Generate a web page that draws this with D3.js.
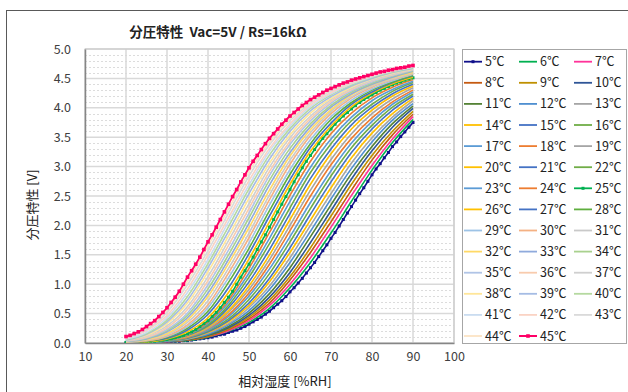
<!DOCTYPE html>
<html><head><meta charset="utf-8">
<script src="https://cdn.jsdelivr.net/npm/d3@7"></script>
<style>body{margin:0;background:#fff;} svg{display:block;}</style>
</head><body><svg id="c" width="628" height="392"></svg>
<script>
// ---------- data ----------
const rhFine = [20,21,22,23,24,25,26,27,28,29,30,31,32,33,34,35,36,37,38,39,40,41,42,43,44,45,46,47,48,49,50,51,52,53,54,55,56,57,58,59,60,61,62,63,64,65,66,67,68,69,70,71,72,73,74,75,76,77,78,79,80,81,82,83,84,85,86,87,88,89,90];
const rhGrid = [20,25,30,35,40,45,50,55,60,65,70,75,80,85,90];
const temps = [5,6,7,8,9,10,11,12,13,14,15,16,17,18,19,20,21,22,23,24,25,26,27,28,29,30,31,32,33,34,35,36,37,38,39,40,41,42,43,44,45];
const xTicks = [10,20,30,40,50,60,70,80,90,100];
const yTicks = [0,0.5,1,1.5,2,2.5,3,3.5,4,4.5,5];
const titleText = "分圧特性  Vac=5V / Rs=16kΩ";
const xLabel = "相対湿度 [%RH]";
const yLabel = "分圧特性 [V]";

const t5 = [0.00,0.00,0.01,0.01,0.01,0.01,0.01,0.01,0.02,0.02,
0.02,0.02,0.03,0.03,0.04,0.04,0.05,0.06,0.07,0.08,
0.09,0.10,0.12,0.14,0.15,0.18,0.20,0.22,0.25,0.28,
0.32,0.36,0.40,0.44,0.49,0.54,0.60,0.66,0.72,0.79,
0.87,0.94,1.02,1.10,1.19,1.28,1.37,1.47,1.57,1.67,
1.78,1.88,1.99,2.10,2.21,2.32,2.43,2.54,2.64,2.75,
2.86,2.96,3.05,3.15,3.24,3.34,3.42,3.51,3.59,3.67,3.75];
const t6 = [0.00,0.01,0.02,0.04,0.10,0.20,0.35,0.59,0.94,1.37,1.87,2.41,2.94,3.41,3.80];
const t7 = [0.00,0.01,0.02,0.05,0.11,0.21,0.38,0.64,1.00,1.45,1.97,2.51,3.02,3.47,3.85];
const t8 = [0.00,0.01,0.03,0.05,0.11,0.23,0.41,0.68,1.07,1.54,2.06,2.60,3.11,3.54,3.89];
const t9 = [0.00,0.01,0.03,0.06,0.12,0.24,0.44,0.73,1.13,1.62,2.16,2.70,3.19,3.60,3.94];
const t10 = [0.00,0.01,0.03,0.06,0.13,0.26,0.47,0.78,1.20,1.71,2.25,2.79,3.27,3.67,3.99];
const t11 = [0.00,0.01,0.03,0.06,0.14,0.28,0.51,0.84,1.28,1.81,2.35,2.88,3.34,3.73,4.03];
const t12 = [0.00,0.01,0.03,0.07,0.15,0.31,0.55,0.91,1.37,1.90,2.45,2.97,3.42,3.79,4.07];
const t13 = [0.01,0.01,0.04,0.07,0.17,0.33,0.60,0.97,1.45,2.00,2.54,3.06,3.49,3.84,4.12];
const t14 = [0.01,0.01,0.04,0.08,0.18,0.36,0.64,1.04,1.54,2.09,2.64,3.15,3.57,3.90,4.16];
const t15 = [0.01,0.01,0.04,0.08,0.19,0.38,0.68,1.10,1.62,2.19,2.74,3.24,3.64,3.96,4.20];
const t16 = [0.01,0.01,0.04,0.09,0.21,0.41,0.74,1.18,1.72,2.29,2.84,3.32,3.70,4.01,4.23];
const t17 = [0.01,0.01,0.04,0.10,0.22,0.45,0.80,1.26,1.81,2.39,2.93,3.40,3.77,4.06,4.27];
const t18 = [0.01,0.02,0.05,0.10,0.24,0.48,0.85,1.34,1.91,2.50,3.03,3.48,3.83,4.10,4.30];
const t19 = [0.01,0.02,0.05,0.11,0.25,0.52,0.91,1.42,2.00,2.60,3.12,3.56,3.90,4.15,4.34];
const t20 = [0.01,0.02,0.05,0.12,0.27,0.55,0.97,1.50,2.10,2.70,3.22,3.64,3.96,4.20,4.37];
const t21 = [0.01,0.02,0.05,0.13,0.29,0.60,1.04,1.59,2.20,2.80,3.30,3.71,4.01,4.24,4.40];
const t22 = [0.01,0.02,0.05,0.14,0.31,0.64,1.12,1.69,2.30,2.90,3.39,3.78,4.06,4.28,4.43];
const t23 = [0.01,0.02,0.06,0.14,0.34,0.69,1.19,1.78,2.41,2.99,3.47,3.84,4.12,4.31,4.45];
const t24 = [0.01,0.02,0.06,0.15,0.36,0.73,1.27,1.88,2.51,3.09,3.56,3.91,4.17,4.35,4.48];
const t25 = [0.01,0.01,0.01,0.01,0.02,0.02,0.03,0.03,0.04,0.05,
0.06,0.07,0.09,0.11,0.13,0.16,0.19,0.23,0.28,0.33,
0.38,0.45,0.52,0.60,0.69,0.78,0.88,1.00,1.12,1.23,
1.34,1.46,1.59,1.72,1.84,1.97,2.10,2.23,2.36,2.49,
2.61,2.74,2.86,2.98,3.09,3.19,3.29,3.39,3.48,3.56,
3.64,3.72,3.79,3.86,3.92,3.98,4.04,4.09,4.14,4.18,
4.22,4.26,4.30,4.33,4.36,4.39,4.42,4.44,4.47,4.49,4.51];
const t26 = [0.01,0.02,0.07,0.19,0.43,0.86,1.43,2.06,2.70,3.26,3.69,4.02,4.25,4.41,4.52];
const t27 = [0.01,0.03,0.08,0.22,0.49,0.94,1.52,2.16,2.78,3.33,3.74,4.06,4.27,4.43,4.54];
const t28 = [0.02,0.03,0.10,0.25,0.54,1.03,1.61,2.25,2.87,3.39,3.80,4.09,4.30,4.44,4.55];
const t29 = [0.02,0.04,0.11,0.28,0.60,1.11,1.70,2.35,2.95,3.46,3.85,4.13,4.32,4.46,4.57];
const t30 = [0.02,0.04,0.12,0.31,0.65,1.19,1.79,2.44,3.04,3.53,3.90,4.17,4.35,4.48,4.58];
const t31 = [0.02,0.05,0.14,0.35,0.72,1.27,1.87,2.52,3.11,3.58,3.94,4.19,4.37,4.49,4.59];
const t32 = [0.02,0.06,0.16,0.39,0.79,1.35,1.96,2.60,3.18,3.63,3.97,4.22,4.39,4.51,4.60];
const t33 = [0.03,0.07,0.19,0.43,0.85,1.42,2.04,2.69,3.24,3.68,4.01,4.24,4.40,4.52,4.62];
const t34 = [0.03,0.08,0.21,0.47,0.92,1.50,2.13,2.77,3.31,3.73,4.04,4.27,4.42,4.54,4.63];
const t35 = [0.03,0.09,0.23,0.51,0.99,1.58,2.21,2.85,3.38,3.78,4.08,4.29,4.44,4.55,4.64];
const t36 = [0.04,0.10,0.26,0.57,1.06,1.66,2.29,2.92,3.43,3.82,4.11,4.31,4.46,4.56,4.65];
const t37 = [0.04,0.12,0.29,0.62,1.13,1.74,2.37,2.99,3.49,3.86,4.14,4.33,4.47,4.57,4.66];
const t38 = [0.05,0.13,0.33,0.68,1.21,1.82,2.46,3.06,3.54,3.91,4.16,4.35,4.49,4.59,4.66];
const t39 = [0.05,0.15,0.36,0.73,1.28,1.90,2.54,3.13,3.60,3.95,4.19,4.37,4.50,4.60,4.67];
const t40 = [0.06,0.16,0.39,0.79,1.35,1.98,2.62,3.20,3.65,3.99,4.22,4.39,4.52,4.61,4.68];
const t41 = [0.07,0.18,0.43,0.86,1.42,2.06,2.69,3.26,3.69,4.02,4.24,4.41,4.53,4.62,4.69];
const t42 = [0.08,0.21,0.47,0.92,1.50,2.13,2.76,3.31,3.73,4.05,4.26,4.42,4.54,4.63,4.70];
const t43 = [0.09,0.23,0.52,0.99,1.57,2.21,2.84,3.37,3.78,4.08,4.29,4.44,4.55,4.63,4.70];
const t44 = [0.10,0.26,0.56,1.05,1.65,2.28,2.91,3.42,3.82,4.11,4.31,4.45,4.56,4.64,4.71];
const t45 = [0.11,0.13,0.16,0.19,0.23,0.28,0.33,0.38,0.45,0.52,
0.60,0.69,0.78,0.88,1.00,1.12,1.23,1.34,1.46,1.59,
1.72,1.84,1.97,2.10,2.23,2.36,2.49,2.61,2.74,2.86,
2.98,3.09,3.19,3.29,3.39,3.48,3.56,3.64,3.72,3.79,
3.86,3.92,3.98,4.04,4.09,4.14,4.18,4.22,4.26,4.30,
4.33,4.36,4.39,4.42,4.44,4.47,4.49,4.51,4.53,4.55,
4.57,4.59,4.61,4.62,4.64,4.65,4.67,4.68,4.69,4.71,4.72];

const valueArrays = [t5,t6,t7,t8,t9,t10,t11,t12,t13,t14,t15,t16,t17,t18,t19,t20,t21,t22,t23,t24,t25,
  t26,t27,t28,t29,t30,t31,t32,t33,t34,t35,t36,t37,t38,t39,t40,t41,t42,t43,t44,t45];
const markerTemps = [5,25,45];

// ---------- styles ----------
const colors = ["#10108a","#00b050","#ff3399","#c55a11","#bf9000","#2f5597","#548235","#4f8fd0","#a5a5a5",
  "#ffc000","#4472c4","#70ad47","#5b9bd5","#ed7d31","#a5a5a5","#ffc000","#4472c4","#70ad47","#5b9bd5","#ed7d31",
  "#00b050","#ffc000","#4472c4","#5fae3e","#9dc3e6","#f4b183","#c9c9c9","#ffd966","#8faadc","#a9d18e",
  "#b0c4e6","#f8cbad","#cfcfcf","#ffe699","#a5bce4","#b5d9a0","#cadcf0","#fad3c4","#dadada","#fce4c4","#ff0066"];
const font = "'Noto Sans CJK JP','Noto Sans',sans-serif";

const svg = d3.select("#c");
svg.append("rect").attr("x",0).attr("y",0).attr("width",628).attr("height",392).attr("fill","#fff");
svg.append("rect").attr("x",6.5).attr("y",10.5).attr("width",700).attr("height",500)
  .attr("fill","none").attr("stroke","#595959").attr("stroke-width",1);

const x = d3.scaleLinear().domain([10,100]).range([85,454]);
const y = d3.scaleLinear().domain([0,5]).range([343,49]);

// minor gridlines
const minor = d3.range(1,50).filter(i => i % 5 !== 0).map(i => i/10);
svg.append("g").selectAll("line").data(minor).join("line")
  .attr("x1",x(10)).attr("x2",x(100)).attr("y1",d=>Math.round(y(d))+0.5).attr("y2",d=>Math.round(y(d))+0.5)
  .attr("stroke","#dcdcdc").attr("stroke-width",1).attr("stroke-dasharray","2,2");
// major gridlines
svg.append("g").selectAll("line").data(yTicks).join("line")
  .attr("x1",x(10)).attr("x2",x(100)).attr("y1",d=>y(d)).attr("y2",d=>y(d))
  .attr("stroke","#d9d9d9").attr("stroke-width",1.5);
svg.append("g").selectAll("line").data(xTicks).join("line")
  .attr("x1",d=>x(d)).attr("x2",d=>x(d)).attr("y1",y(0)).attr("y2",y(5))
  .attr("stroke","#d9d9d9").attr("stroke-width",1.5);
// plot border
svg.append("rect").attr("x",x(10)).attr("y",y(5)).attr("width",x(100)-x(10)).attr("height",y(0)-y(5))
  .attr("fill","none").attr("stroke","#c8c8c8").attr("stroke-width",1);

// axes
const xAxis = d3.axisBottom(x).tickValues(xTicks).tickSize(0).tickPadding(9).tickFormat(d3.format("d"));
const gx = svg.append("g").attr("transform",`translate(0,${y(0)})`).call(xAxis);
gx.select(".domain").attr("stroke","#868686").attr("stroke-width",1.5);
gx.selectAll("text").attr("font-family",font).attr("font-size",12.5).attr("fill","#404040");
const yAxis = d3.axisLeft(y).tickValues(yTicks).tickSize(0).tickPadding(14).tickFormat(d3.format(".1f"));
const gy = svg.append("g").attr("transform",`translate(${x(10)},0)`).call(yAxis);
gy.select(".domain").attr("stroke","#868686").attr("stroke-width",1.5);
gy.selectAll("text").attr("font-family",font).attr("font-size",12.5).attr("fill","#404040");

// series
svg.append("defs").append("clipPath").attr("id","clip").append("rect")
  .attr("x",x(10)).attr("y",y(5)-4).attr("width",x(100)-x(10)).attr("height",y(0)-y(5)+4);
const line = d3.line().x(d=>x(d[0])).y(d=>y(d[1])).curve(d3.curveMonotoneX);
const series = temps.map((t,i) => {
  const v = valueArrays[i];
  const r = v.length === rhFine.length ? rhFine : rhGrid;
  return {t, color: colors[i], pts: r.map((rr,j)=>[rr, v[j]]), marker: markerTemps.includes(t)};
});
const plot = svg.append("g").attr("clip-path","url(#clip)");
series.forEach(s => {
  plot.append("path").attr("d", line(s.pts)).attr("fill","none")
    .attr("stroke", s.color).attr("stroke-width", s.t===45 ? 1.8 : 1.6);
  if (s.marker) {
    const sz = s.t===45 ? 3.6 : 3;
    plot.append("g").selectAll("rect").data(s.pts).join("rect")
      .attr("x",d=>x(d[0])-sz/2).attr("y",d=>y(d[1])-sz/2).attr("width",sz).attr("height",sz)
      .attr("fill",s.color);
  }
});

// title & axis labels
svg.append("text").attr("x",218).attr("y",37).attr("text-anchor","middle").style("white-space","pre")
  .attr("font-family",font).attr("font-size",13.5).attr("font-weight","bold").attr("fill","#222").text(titleText);
svg.append("text").attr("x",285).attr("y",386).attr("text-anchor","middle")
  .attr("font-family",font).attr("font-size",13).attr("fill","#222").text(xLabel);
svg.append("text").attr("transform","translate(37,205) rotate(-90)").attr("text-anchor","middle")
  .attr("font-family",font).attr("font-size",13).attr("fill","#222").text(yLabel);

// legend
svg.append("rect").attr("x",462.5).attr("y",49.5).attr("width",164).attr("height",294)
  .attr("fill","#fff").attr("stroke","#a6a6a6").attr("stroke-width",1);
const colX = [464,519,574];
series.forEach((s,i) => {
  const cx = colX[i%3], cy = 61.7 + Math.floor(i/3)*21.1;
  const g = svg.append("g");
  g.append("line").attr("x1",cx).attr("x2",cx+18).attr("y1",cy).attr("y2",cy)
    .attr("stroke",s.color).attr("stroke-width",s.t===45?2:1.8);
  if (s.marker) {
    const sz = s.t===45 ? 3.6 : 3;
    g.append("rect").attr("x",cx+9-sz/2).attr("y",cy-sz/2).attr("width",sz).attr("height",sz).attr("fill",s.color);
  }
  g.append("text").attr("x",cx+21).attr("y",cy).attr("dy","0.36em")
    .attr("font-family",font).attr("font-size",12.5).attr("fill","#222").text(s.t + "℃");
});
</script>
</body></html>
